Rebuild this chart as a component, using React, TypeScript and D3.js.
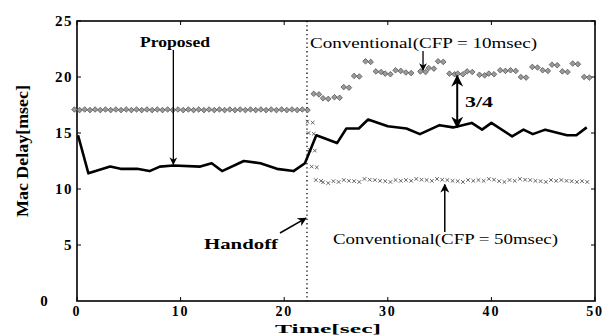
import React from 'react';
import * as d3 from 'd3';

// Proposed scheme (solid line)
const proposedT = [0.1, 1.1, 3.2, 4.2, 5.8, 7.0, 8.0, 9.3, 11.9, 13.0, 14.0, 16.1, 17.7, 19.3, 20.9, 22.0, 23.1, 25.1, 26.0, 27.2, 28.1, 30.0, 31.8, 33.1, 35.0, 36.3, 38.1, 39.1, 40.0, 42.0, 43.1, 44.0, 45.2, 47.3, 48.2, 49.2];
const proposedY = [14.8, 11.4, 12.0, 11.8, 11.8, 11.6, 12.0, 12.1, 12.0, 12.3, 11.6, 12.5, 12.3, 11.8, 11.6, 12.3, 14.8, 14.1, 15.4, 15.4, 16.2, 15.6, 15.4, 14.9, 15.7, 15.5, 15.9, 15.3, 15.9, 14.7, 15.3, 14.9, 15.3, 14.8, 14.8, 15.5];

// Conventional CFP = 10msec (before and after handoff)
const cfp10T = [0, 1, 2, 3, 4, 5, 6, 7, 8, 9, 10, 11, 12, 13, 14, 15, 16, 17, 18, 19, 20, 21, 22, 23.1, 24.0, 25.1, 26.0, 27.0, 28.1, 29.1, 30.0, 31.0, 32.0, 33.4, 34.2, 35.1, 36.2, 37.0, 37.9, 39.1, 40.0, 41.1, 42.1, 43.1, 44.2, 45.2, 46.1, 47.1, 48.1, 49.2];
const cfp10Y = [17.1, 17.1, 17.1, 17.1, 17.1, 17.1, 17.1, 17.1, 17.1, 17.1, 17.1, 17.1, 17.1, 17.1, 17.1, 17.1, 17.1, 17.1, 17.1, 17.1, 17.1, 17.1, 17.1, 18.5, 18.1, 18.2, 19.1, 20.1, 21.4, 20.5, 20.3, 20.6, 20.4, 20.5, 20.8, 21.4, 20.3, 20.3, 20.5, 20.2, 20.3, 20.6, 20.6, 20.0, 20.9, 20.6, 21.1, 20.5, 21.2, 20.0];

// Conventional CFP = 50msec (after handoff)
const cfp50T = [22.5, 22.6, 22.7, 22.9, 23.3, 24, 25, 26, 27, 28, 29, 30, 31, 32, 33, 34, 35, 36, 37, 38, 39, 40, 41, 42, 43, 44, 45, 46, 47, 48, 49];
const cfp50Y = [16.0, 15.0, 13.5, 12.0, 10.8, 10.6, 10.7, 10.8, 10.7, 10.9, 10.8, 10.7, 10.8, 10.8, 10.9, 10.8, 10.9, 10.8, 10.7, 10.8, 10.8, 10.9, 10.7, 10.8, 10.9, 10.8, 10.7, 10.8, 10.8, 10.7, 10.7];

const handoffT = 22.2;
const xTicks = [0, 10, 20, 30, 40, 50];
const yTicks = [5, 10, 15, 20, 25];

const W = 609, H = 336;
const L = 77, R = 595, T = 21, B = 301;
const font = '"Liberation Serif", "DejaVu Serif", serif';

const App = () => {
  const x = d3.scaleLinear().domain([0, 50]).range([L, R]);
  const y = d3.scaleLinear().domain([0, 25]).range([B, T]);
  const line = d3.line<number>().x((_, i) => x(proposedT[i])).y(d => y(d));

  const diamond = (cx: number, cy: number, s: number) =>
    `M${cx - s},${cy}L${cx},${cy - s}L${cx + s},${cy}L${cx},${cy + s}Z`;

  return (
    <svg width={W} height={H} style={{ position: 'absolute', left: 0, top: 0, background: '#fff' }}>
      <defs>
        <marker id="ah" viewBox="0 0 10 10" refX="9" refY="5" markerWidth="6" markerHeight="6" orient="auto-start-reverse">
          <path d="M0,0L10,5L0,10L3,5Z" fill="#000" />
        </marker>
      </defs>

      {/* frame */}
      <rect x={L} y={T} width={R - L} height={B - T} fill="none" stroke="#000" strokeWidth={1.6} />
      {xTicks.map(t => (
        <g key={'xt' + t}>
          <line x1={x(t)} x2={x(t)} y1={B} y2={B - 4} stroke="#000" />
          <line x1={x(t)} x2={x(t)} y1={T} y2={T + 4} stroke="#000" />
          <text x={x(t)} y={316} textAnchor="middle" fontFamily={font} fontWeight="bold" fontSize={14} letterSpacing={1.8}>{t}</text>
        </g>
      ))}
      {yTicks.map(t => (
        <g key={'yt' + t}>
          <line x1={L} x2={L + 4} y1={y(t)} y2={y(t)} stroke="#000" />
          <line x1={R} x2={R - 4} y1={y(t)} y2={y(t)} stroke="#000" />
          <text x={73} y={y(t) + 5} textAnchor="end" fontFamily={font} fontWeight="bold" fontSize={15} letterSpacing={1.5}>{t}</text>
        </g>
      ))}
      <text x={44} y={y(0) + 5} textAnchor="middle" fontFamily={font} fontWeight="bold" fontSize={15}>0</text>

      {/* axis titles */}
      <text x={328} y={333} textAnchor="middle" fontFamily={font} fontWeight="bold" fontSize={13}
        textLength={106} lengthAdjust="spacingAndGlyphs">Time[sec]</text>
      <text transform="translate(28,151) rotate(-90)" textAnchor="middle" fontFamily={font} fontWeight="bold" fontSize={17}
        textLength={132} lengthAdjust="spacingAndGlyphs">Mac Delay[msec]</text>

      {/* handoff line */}
      <line x1={x(handoffT)} x2={x(handoffT)} y1={T} y2={B} stroke="#000" strokeWidth={1.3} strokeDasharray="1.3,3" />

      {/* CFP = 10 markers */}
      {cfp10Y.map((v, i) => (
        <g key={'c10' + i} fill="#9a9a9a" stroke="#333" strokeWidth={0.6}>
          <path d={diamond(x(cfp10T[i]) - 2.6, y(v), 2.8)} />
          <path d={diamond(x(cfp10T[i]) + 2.6, y(v) + 0.6, 2.8)} />
        </g>
      ))}

      {/* CFP = 50 markers */}
      {cfp50Y.map((v, i) => (
        <g key={'c50' + i} stroke="#555" strokeWidth={0.9}>
          {[-2.6, 2.6].map((dx, j) => (
            <g key={j}>
              <line x1={x(cfp50T[i]) + dx - 1.8} x2={x(cfp50T[i]) + dx + 1.8} y1={y(v) - 1.8 + j * 0.8} y2={y(v) + 1.8 + j * 0.8} />
              <line x1={x(cfp50T[i]) + dx - 1.8} x2={x(cfp50T[i]) + dx + 1.8} y1={y(v) + 1.8 + j * 0.8} y2={y(v) - 1.8 + j * 0.8} />
            </g>
          ))}
        </g>
      ))}

      {/* proposed */}
      <path d={line(proposedY) || ''} fill="none" stroke="#000" strokeWidth={2.6} strokeLinejoin="round" />

      {/* annotations */}
      <text x={140} y={47} fontFamily={font} fontWeight="bold" fontSize={14} textLength={70} lengthAdjust="spacingAndGlyphs">Proposed</text>
      <line x1={x(9.3)} x2={x(9.3)} y1={50} y2={y(12.2)} stroke="#000" strokeWidth={1.3} markerEnd="url(#ah)" />

      <text x={310} y={48} fontFamily={font} fontSize={14} textLength={227} lengthAdjust="spacingAndGlyphs">Conventional(CFP = 10msec)</text>
      <line x1={x(33.4)} x2={x(33.4)} y1={51} y2={y(20.6)} stroke="#000" strokeWidth={1.3} markerEnd="url(#ah)" />

      <line x1={x(36.7)} x2={x(36.7)} y1={y(20.1)} y2={y(15.5)} stroke="#000" strokeWidth={2} markerStart="url(#ah)" markerEnd="url(#ah)" />
      <text x={465} y={107} fontFamily={font} fontWeight="bold" fontSize={14} textLength={28} lengthAdjust="spacingAndGlyphs">3/4</text>

      <text x={333} y={244} fontFamily={font} fontSize={14} textLength={225} lengthAdjust="spacingAndGlyphs">Conventional(CFP = 50msec)</text>
      <line x1={x(35.5)} x2={x(35.5)} y1={232} y2={y(10.4)} stroke="#000" strokeWidth={1.5} markerEnd="url(#ah)" />

      <text x={204} y={249} fontFamily={font} fontWeight="bold" fontSize={15} textLength={74} lengthAdjust="spacingAndGlyphs">Handoff</text>
      <line x1={280} y1={233} x2={x(handoffT) - 1} y2={y(7.4)} stroke="#000" strokeWidth={1.5} markerEnd="url(#ah)" />
    </svg>
  );
};

export default App;
